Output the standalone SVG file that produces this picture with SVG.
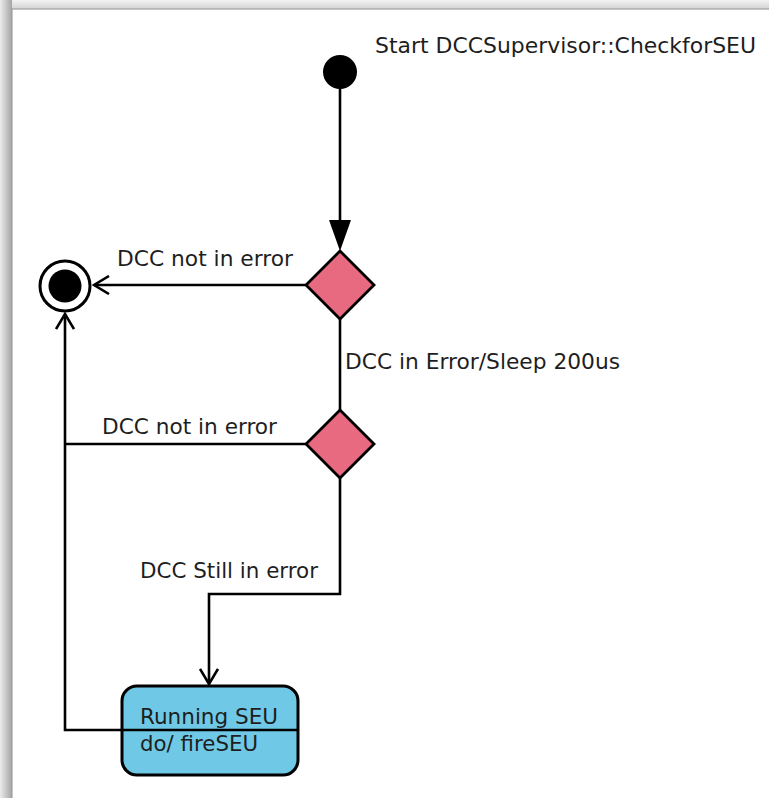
<svg xmlns="http://www.w3.org/2000/svg" width="769" height="798" viewBox="0 0 769 798">
  <style>
    text { font-family: "DejaVu Sans", "Liberation Sans", sans-serif; font-size: 21.5px; fill: #1e1e1e; }
    .edge { fill: none; stroke: #000; stroke-width: 2.6; }
    .decision { fill: #e86a80; stroke: #000; stroke-width: 2.8; stroke-linejoin: miter; }
    .state { fill: #6fc9e6; stroke: #000; stroke-width: 3; }
  </style>
  <defs>
    <linearGradient id="shadowLeft" x1="0" y1="0" x2="1" y2="0">
      <stop offset="0" stop-color="#ececec"/>
      <stop offset="1" stop-color="#a4a4a4"/>
    </linearGradient>
    <linearGradient id="shadowTop" x1="0" y1="0" x2="0" y2="1">
      <stop offset="0" stop-color="#f2f2f2"/>
      <stop offset="1" stop-color="#cfcfcf"/>
    </linearGradient>
    <marker id="open" viewBox="0 0 20 20" refX="18" refY="10" markerWidth="20" markerHeight="20" markerUnits="userSpaceOnUse" orient="auto">
      <path d="M3,1 L18,10 L3,19" fill="none" stroke="#000" stroke-width="2.6"/>
    </marker>
  </defs>

  <!-- window background and drop shadow -->
  <rect x="0" y="0" width="769" height="798" fill="#f0f0f0"/>
  <rect x="0" y="0" width="769" height="10" fill="url(#shadowTop)"/>
  <rect x="0" y="0" width="12" height="798" fill="url(#shadowLeft)"/>
  <rect x="12" y="9" width="760" height="792" fill="#fff" stroke="#a0a0a0" stroke-width="1.2"/>

  <!-- connectors -->
  <g id="connectors">
    <line class="edge" x1="340" y1="88" x2="340" y2="222"/>
    <polygon points="329,220 351,220 340,251" fill="#000"/>
    <text x="375" y="53" textLength="381" lengthAdjust="spacingAndGlyphs">Start DCCSupervisor::CheckforSEU</text>

    <path class="edge" d="M306,285 H94" marker-end="url(#open)"/>
    <text x="117" y="266" textLength="176" lengthAdjust="spacingAndGlyphs">DCC not in error</text>

    <path class="edge" d="M340,319 V410"/>
    <text x="345" y="369" textLength="275" lengthAdjust="spacingAndGlyphs">DCC in Error/Sleep 200us</text>

    <path class="edge" d="M306,444 H65"/>
    <text x="102" y="434" textLength="175" lengthAdjust="spacingAndGlyphs">DCC not in error</text>

    <path class="edge" d="M340,478 V594 H209 V684" marker-end="url(#open)"/>
    <text x="140" y="578" textLength="178" lengthAdjust="spacingAndGlyphs">DCC Still in error</text>
  </g>

  <!-- initial node -->
  <g id="start">
    <circle cx="340" cy="72" r="17" fill="#000"/>
  </g>

  <!-- final node -->
  <g id="final">
    <circle cx="65" cy="286" r="25" fill="#fff" stroke="#000" stroke-width="3"/>
    <circle cx="65" cy="286" r="16.5" fill="#000"/>
  </g>

  <!-- decisions -->
  <g id="decision1">
    <polygon class="decision" points="340,251 374,285 340,319 306,285"/>
  </g>
  <g id="decision2">
    <polygon class="decision" points="340,410 374,444 340,478 306,444"/>
  </g>

  <!-- action state -->
  <g id="runningSEU">
    <rect class="state" x="122" y="686" width="176" height="89" rx="15" ry="15"/>
    <text x="140" y="724" textLength="138" lengthAdjust="spacingAndGlyphs">Running SEU</text>
    <text x="140" y="751" textLength="118" lengthAdjust="spacingAndGlyphs">do/ fireSEU</text>
  </g>

  <!-- return path from the action state to the final node -->
  <g id="connectors-return">
    <path class="edge" d="M297,730 H65 V314" marker-end="url(#open)"/>
  </g>
</svg>
